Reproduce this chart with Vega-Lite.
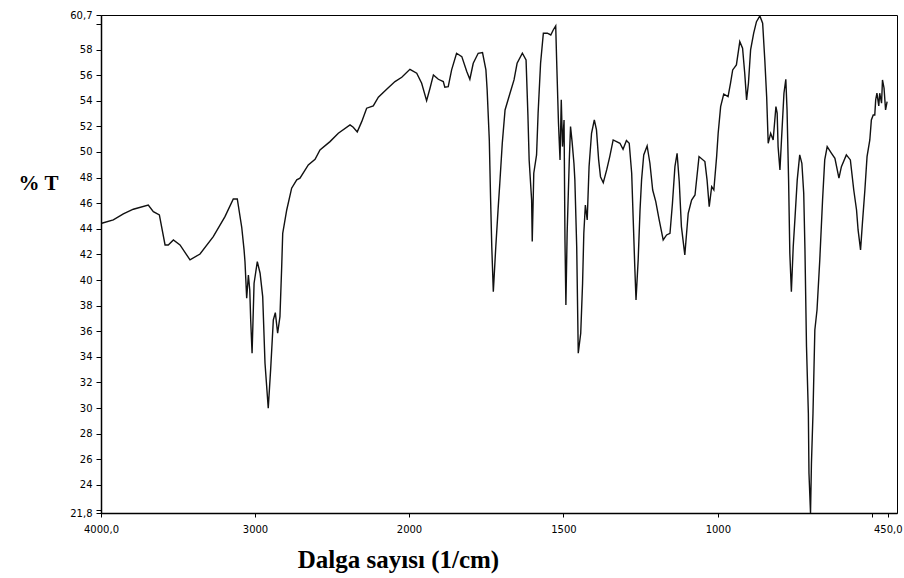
{
  "$schema": "https://vega.github.io/schema/vega-lite/v6.json",
  "width": 796,
  "height": 498,
  "autosize": {"type": "none"},
  "padding": {"left": 101, "top": 15, "right": 7, "bottom": 65},
  "background": "white",
  "config": {
    "view": {"stroke": "#000", "strokeWidth": 1},
    "axis": {"grid": false, "domainColor": "#000", "domainWidth": 1.5, "tickColor": "#000", "labelColor": "#000", "titleColor": "#000", "labelFont": "DejaVu Sans", "labelFontSize": 10}
  },
  "data": {"values": [
    {"wn": 3995, "t": 44.43}, {"wn": 3920, "t": 44.69}, {"wn": 3855, "t": 45.16}, {"wn": 3790, "t": 45.53}, {"wn": 3693, "t": 45.86},
    {"wn": 3660, "t": 45.34}, {"wn": 3621, "t": 45.08}, {"wn": 3584, "t": 42.74}, {"wn": 3563, "t": 42.74}, {"wn": 3530, "t": 43.13},
    {"wn": 3487, "t": 42.74}, {"wn": 3422, "t": 41.57}, {"wn": 3357, "t": 42.03}, {"wn": 3271, "t": 43.39}, {"wn": 3195, "t": 44.95},
    {"wn": 3141, "t": 46.33}, {"wn": 3115, "t": 46.33}, {"wn": 3086, "t": 44.1}, {"wn": 3071, "t": 42.35}, {"wn": 3065, "t": 41.43},
    {"wn": 3054, "t": 38.57}, {"wn": 3043, "t": 40.39}, {"wn": 3034, "t": 39.22}, {"wn": 3028, "t": 36.88}, {"wn": 3019, "t": 34.28},
    {"wn": 3006, "t": 39.75}, {"wn": 2985, "t": 41.43}, {"wn": 2967, "t": 40.53}, {"wn": 2950, "t": 38.7}, {"wn": 2935, "t": 33.5},
    {"wn": 2914, "t": 29.98}, {"wn": 2898, "t": 33.1}, {"wn": 2881, "t": 36.88}, {"wn": 2868, "t": 37.45}, {"wn": 2853, "t": 35.84},
    {"wn": 2838, "t": 37.14}, {"wn": 2827, "t": 40.92}, {"wn": 2820, "t": 43.65}, {"wn": 2794, "t": 45.47}, {"wn": 2762, "t": 47.17},
    {"wn": 2729, "t": 47.82}, {"wn": 2708, "t": 47.95}, {"wn": 2654, "t": 48.99}, {"wn": 2610, "t": 49.43}, {"wn": 2578, "t": 50.16},
    {"wn": 2513, "t": 50.81}, {"wn": 2459, "t": 51.46}, {"wn": 2383, "t": 52.11}, {"wn": 2362, "t": 51.93}, {"wn": 2336, "t": 51.57},
    {"wn": 2307, "t": 52.37}, {"wn": 2275, "t": 53.42}, {"wn": 2232, "t": 53.6}, {"wn": 2199, "t": 54.28}, {"wn": 2145, "t": 54.9},
    {"wn": 2091, "t": 55.5}, {"wn": 2047, "t": 55.84}, {"wn": 1997, "t": 56.46}, {"wn": 1975, "t": 56.15}, {"wn": 1959, "t": 55.37},
    {"wn": 1943, "t": 54.01}, {"wn": 1932, "t": 54.98}, {"wn": 1921, "t": 56.02}, {"wn": 1905, "t": 55.68}, {"wn": 1889, "t": 55.5},
    {"wn": 1884, "t": 55.06}, {"wn": 1873, "t": 55.1}, {"wn": 1862, "t": 56.41}, {"wn": 1846, "t": 57.71}, {"wn": 1829, "t": 57.45},
    {"wn": 1813, "t": 56.28}, {"wn": 1803, "t": 55.68}, {"wn": 1792, "t": 56.93}, {"wn": 1776, "t": 57.71}, {"wn": 1762, "t": 57.76},
    {"wn": 1751, "t": 56.41}, {"wn": 1747, "t": 54.85}, {"wn": 1740, "t": 50.94}, {"wn": 1736, "t": 46.51}, {"wn": 1732, "t": 42.6},
    {"wn": 1727, "t": 39.09}, {"wn": 1719, "t": 42.6}, {"wn": 1711, "t": 45.73}, {"wn": 1706, "t": 47.56}, {"wn": 1698, "t": 50.68},
    {"wn": 1689, "t": 53.28}, {"wn": 1673, "t": 54.59}, {"wn": 1660, "t": 55.63}, {"wn": 1650, "t": 56.93}, {"wn": 1633, "t": 57.71},
    {"wn": 1621, "t": 57.19}, {"wn": 1615, "t": 52.89}, {"wn": 1611, "t": 49.38}, {"wn": 1603, "t": 46.25}, {"wn": 1601, "t": 43.0},
    {"wn": 1596, "t": 48.34}, {"wn": 1587, "t": 49.77}, {"wn": 1582, "t": 53.03}, {"wn": 1574, "t": 56.93}, {"wn": 1565, "t": 59.28},
    {"wn": 1552, "t": 59.28}, {"wn": 1541, "t": 59.14}, {"wn": 1533, "t": 59.53}, {"wn": 1525, "t": 59.85}, {"wn": 1522, "t": 57.19},
    {"wn": 1516, "t": 52.25}, {"wn": 1511, "t": 49.38}, {"wn": 1507, "t": 54.07}, {"wn": 1503, "t": 50.42}, {"wn": 1498, "t": 52.5},
    {"wn": 1495, "t": 43.13}, {"wn": 1492, "t": 38.05}, {"wn": 1488, "t": 43.65}, {"wn": 1481, "t": 49.38}, {"wn": 1477, "t": 51.98},
    {"wn": 1472, "t": 50.81}, {"wn": 1466, "t": 49.12}, {"wn": 1463, "t": 47.82}, {"wn": 1457, "t": 42.6}, {"wn": 1452, "t": 34.28},
    {"wn": 1444, "t": 35.84}, {"wn": 1438, "t": 39.75}, {"wn": 1434, "t": 43.65}, {"wn": 1429, "t": 45.86}, {"wn": 1423, "t": 44.69},
    {"wn": 1417, "t": 48.85}, {"wn": 1409, "t": 51.46}, {"wn": 1400, "t": 52.5}, {"wn": 1393, "t": 51.72}, {"wn": 1386, "t": 49.38},
    {"wn": 1380, "t": 48.07}, {"wn": 1371, "t": 47.6}, {"wn": 1360, "t": 48.6}, {"wn": 1350, "t": 49.64}, {"wn": 1339, "t": 50.94},
    {"wn": 1328, "t": 50.81}, {"wn": 1317, "t": 50.68}, {"wn": 1307, "t": 50.21}, {"wn": 1296, "t": 50.89}, {"wn": 1287, "t": 50.68},
    {"wn": 1279, "t": 48.34}, {"wn": 1274, "t": 44.69}, {"wn": 1269, "t": 41.04}, {"wn": 1265, "t": 38.44}, {"wn": 1258, "t": 41.57},
    {"wn": 1252, "t": 45.47}, {"wn": 1247, "t": 47.82}, {"wn": 1240, "t": 49.77}, {"wn": 1229, "t": 50.47}, {"wn": 1220, "t": 49.12},
    {"wn": 1211, "t": 47.03}, {"wn": 1201, "t": 46.12}, {"wn": 1190, "t": 44.69}, {"wn": 1177, "t": 43.13}, {"wn": 1166, "t": 43.52},
    {"wn": 1155, "t": 43.65}, {"wn": 1147, "t": 46.0}, {"wn": 1139, "t": 48.85}, {"wn": 1132, "t": 49.9}, {"wn": 1125, "t": 47.68},
    {"wn": 1118, "t": 44.17}, {"wn": 1107, "t": 41.96}, {"wn": 1096, "t": 45.21}, {"wn": 1085, "t": 46.25}, {"wn": 1074, "t": 46.64},
    {"wn": 1061, "t": 49.64}, {"wn": 1042, "t": 49.25}, {"wn": 1035, "t": 47.82}, {"wn": 1028, "t": 45.73}, {"wn": 1020, "t": 47.29},
    {"wn": 1013, "t": 47.03}, {"wn": 1004, "t": 49.64}, {"wn": 999, "t": 51.46}, {"wn": 991, "t": 53.54}, {"wn": 981, "t": 54.53},
    {"wn": 967, "t": 54.32}, {"wn": 959, "t": 55.37}, {"wn": 952, "t": 56.41}, {"wn": 940, "t": 56.8}, {"wn": 929, "t": 58.62},
    {"wn": 920, "t": 58.1}, {"wn": 913, "t": 56.15}, {"wn": 907, "t": 54.07}, {"wn": 901, "t": 55.37}, {"wn": 894, "t": 57.97},
    {"wn": 884, "t": 59.28}, {"wn": 875, "t": 60.18}, {"wn": 864, "t": 60.63}, {"wn": 855, "t": 60.06}, {"wn": 848, "t": 57.19},
    {"wn": 842, "t": 54.32}, {"wn": 837, "t": 50.68}, {"wn": 829, "t": 51.46}, {"wn": 821, "t": 50.94}, {"wn": 812, "t": 53.54},
    {"wn": 808, "t": 53.03}, {"wn": 805, "t": 50.42}, {"wn": 799, "t": 48.6}, {"wn": 794, "t": 50.94}, {"wn": 786, "t": 54.59},
    {"wn": 780, "t": 55.68}, {"wn": 776, "t": 53.28}, {"wn": 771, "t": 47.82}, {"wn": 767, "t": 42.09}, {"wn": 762, "t": 39.09},
    {"wn": 756, "t": 42.6}, {"wn": 750, "t": 44.95}, {"wn": 743, "t": 47.82}, {"wn": 735, "t": 49.77}, {"wn": 728, "t": 49.12},
    {"wn": 722, "t": 46.78}, {"wn": 718, "t": 42.35}, {"wn": 713, "t": 34.79}, {"wn": 707, "t": 29.59}, {"wn": 705, "t": 24.9},
    {"wn": 700, "t": 21.8}, {"wn": 697, "t": 25.68}, {"wn": 692, "t": 29.59}, {"wn": 686, "t": 36.1}, {"wn": 679, "t": 37.66},
    {"wn": 670, "t": 41.57}, {"wn": 661, "t": 46.25}, {"wn": 654, "t": 49.38}, {"wn": 646, "t": 50.42}, {"wn": 632, "t": 49.9},
    {"wn": 621, "t": 49.51}, {"wn": 608, "t": 47.95}, {"wn": 600, "t": 48.85}, {"wn": 584, "t": 49.77}, {"wn": 571, "t": 49.38},
    {"wn": 560, "t": 47.03}, {"wn": 551, "t": 45.47}, {"wn": 546, "t": 43.91}, {"wn": 538, "t": 42.35}, {"wn": 532, "t": 44.43},
    {"wn": 524, "t": 47.03}, {"wn": 517, "t": 49.64}, {"wn": 508, "t": 50.94}, {"wn": 503, "t": 52.5}, {"wn": 497, "t": 52.89},
    {"wn": 492, "t": 52.89}, {"wn": 489, "t": 54.07}, {"wn": 485, "t": 54.59}, {"wn": 479, "t": 53.6}, {"wn": 476, "t": 54.59},
    {"wn": 470, "t": 53.81}, {"wn": 467, "t": 55.63}, {"wn": 462, "t": 55.0}, {"wn": 457, "t": 53.28}, {"wn": 452, "t": 53.93}
  ]},
  "mark": {"type": "line", "color": "#111", "strokeWidth": 1.4, "clip": true},
  "encoding": {
    "x": {
      "field": "wn", "type": "quantitative",
      "scale": {"domain": [4000, 2000, 420], "range": [0, 308, 796], "zero": false, "nice": false},
      "axis": {
        "values": [4000, 3000, 2000, 1500, 1000, 500, 450],
        "labelExpr": "datum.value == 4000 ? '4000,0' : datum.value == 450 ? '450,0' : datum.value == 500 ? '' : '' + datum.value",
        "tickSize": 4, "labelPadding": 7, "labelFlush": false,
        "title": "Dalga sayısı (1/cm)",
        "titleFont": "Liberation Serif", "titleFontSize": 25, "titleFontWeight": "bold",
        "titleX": 297, "titleY": 54, "titleAlign": "center", "titleBaseline": "alphabetic"
      }
    },
    "y": {
      "field": "t", "type": "quantitative",
      "scale": {"domain": [21.8, 60.7], "zero": false, "nice": false},
      "axis": {
        "values": [21.8, 22, 24, 26, 28, 30, 32, 34, 36, 38, 40, 42, 44, 46, 48, 50, 52, 54, 56, 58, 60, 60.7],
        "labelExpr": "datum.value == 21.8 ? '21,8' : datum.value == 60.7 ? '60,7' : (datum.value == 22 || datum.value == 60) ? '' : '' + datum.value",
        "tickSize": 5, "labelPadding": 4, "labelFlush": false, "labelOverlap": false,
        "title": "% T",
        "titleFont": "Liberation Serif", "titleFontSize": 21, "titleFontWeight": "bold",
        "titleAngle": 0, "titleX": -63, "titleY": 168, "titleAlign": "center", "titleBaseline": "middle"
      }
    }
  }
}
